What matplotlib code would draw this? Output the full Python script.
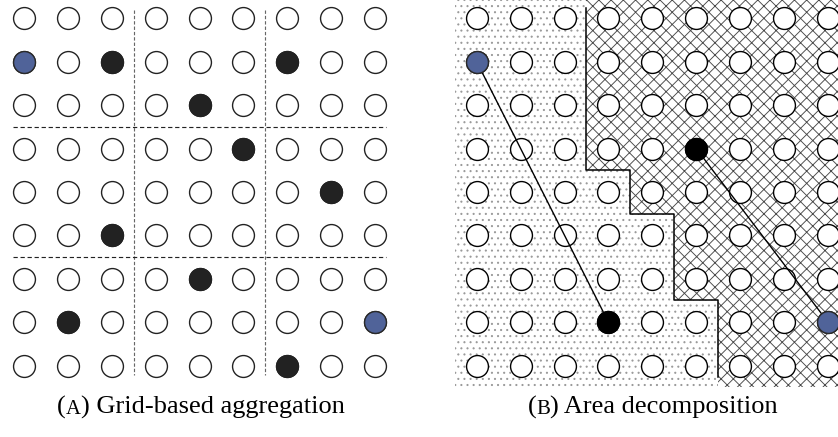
import matplotlib
matplotlib.use("Agg")
import matplotlib.pyplot as plt
from matplotlib.patches import Polygon

plt.rcParams['lines.scale_dashes'] = False
plt.rcParams['hatch.linewidth'] = 0.6

# Grid of sample points (9 x 9), (row, col) with row 0 at top
n_rows, n_cols = 9, 9

# (a) grid-based aggregation
grid_black = [(1, 2), (1, 6), (2, 4), (3, 5), (4, 7), (5, 2), (6, 4), (7, 1), (8, 6)]
grid_blue = [(1, 0), (7, 8)]
grid_cuts = [2.5, 5.5]

# (b) area decomposition
area_black = [(3, 5), (7, 3)]
area_blue = [(1, 0), (7, 8)]
area_links = [((1, 0), (7, 3)), ((3, 5), (7, 8))]
step_cols = [2.5, 3.5, 4.5, 5.5]
step_rows = [3.5, 4.5, 6.5]

captions = ["Grid-based aggregation", "Area decomposition"]
caption_tags = ["A", "B"]

BLUE = '#506399'
DPI = 110
W, H = 838, 437

fig = plt.figure(figsize=(W / DPI, H / DPI), dpi=DPI)


# place an axes from a pixel box; col c sits at px x0c + dx*c, row r at y0r + dy*r
def grid_axes(px_left, px_right, px_top, px_bot, x0c, dx, y0r, dy):
    ax = fig.add_axes([px_left / W, 1 - px_bot / H,
                       (px_right - px_left) / W, (px_bot - px_top) / H])
    ax.set_xlim((px_left - x0c) / dx, (px_right - x0c) / dx)
    ax.set_ylim((px_bot - y0r) / dy, (px_top - y0r) / dy)
    ax.axis('off')
    return ax


def get(i, l):
    return [z[i] for z in l]


all_pts = [(r, c) for r in range(n_rows) for c in range(n_cols)]
S = 205
LW = 0.9

# ---------- (a)
axA = grid_axes(0, 410, 0, 395, 24, 43.875, 18.3, 43.4)
axA.scatter(get(1, all_pts), get(0, all_pts), s=S, facecolor='white',
            edgecolor='#222222', linewidth=LW, zorder=2)
axA.scatter(get(1, grid_black), get(0, grid_black), s=S, facecolor='#222222',
            edgecolor='#222222', linewidth=LW, zorder=3)
axA.scatter(get(1, grid_blue), get(0, grid_blue), s=S, facecolor=BLUE,
            edgecolor='#2a2a2a', linewidth=LW, zorder=3)
for g in grid_cuts:
    axA.plot([g, g], [-0.19, 8.22], color='#666666', lw=0.75,
             linestyle=(0, (2.2, 1.3)), zorder=1)
    axA.plot([-0.26, 8.26], [g, g], color='#222222', lw=0.75,
             linestyle=(0, (2.8, 1.8)), zorder=1)

# ---------- (b)
axB = grid_axes(440, 838, 0, 395, 476.7, 43.9, 18.3, 43.4)
top, bot = -0.45, 8.5
stair = [(step_cols[0], top)]
for i, r in enumerate(step_rows):
    stair.append((step_cols[i], r))
    stair.append((step_cols[i + 1], r))
stair.append((step_cols[-1], bot))

left_poly = [(-0.5, top)] + stair + [(-0.5, bot)]
right_poly = stair + [(9.0, bot), (9.0, top)]
axB.add_patch(Polygon(left_poly, closed=True, facecolor='white', edgecolor='#9a9a9a',
                      linewidth=0, hatch='...', zorder=0))
axB.add_patch(Polygon(right_poly, closed=True, facecolor='white', edgecolor='#4a4a4a',
                      linewidth=0, hatch='xxx', zorder=0))
line = [(stair[0][0], -0.23)] + stair[1:-1] + [(stair[-1][0], 8.27)]
axB.plot(get(0, line), get(1, line), color='black', lw=1.0, zorder=1)

axB.scatter(get(1, all_pts), get(0, all_pts), s=S, facecolor='white',
            edgecolor='black', linewidth=LW, zorder=2)
for a, b in area_links:
    axB.plot([a[1], b[1]], [a[0], b[0]], color='black', lw=0.9, zorder=3)
axB.scatter(get(1, area_black), get(0, area_black), s=S, facecolor='black',
            edgecolor='black', linewidth=LW, zorder=4)
axB.scatter(get(1, area_blue), get(0, area_blue), s=S, facecolor=BLUE,
            edgecolor='#2a2a2a', linewidth=LW, zorder=4)

# ---------- captions with small-caps tag
renderer = fig.canvas.get_renderer()
font = 'Liberation Serif'


def caption(xc, yc, tag, text, size=17.3):
    parts = [("(", size), (tag, size * 0.78), (") " + text, size)]
    objs = []
    for s, fs in parts:
        t = fig.text(0, 1 - yc / H, s, fontsize=fs, family=font,
                     ha='left', va='baseline')
        objs.append(t)
    widths = [t.get_window_extent(renderer).width for t in objs]
    x = xc - sum(widths) / 2
    for t, w in zip(objs, widths):
        t.set_x(x / W)
        x += w


caption(201, 414, caption_tags[0], captions[0])
caption(653, 414, caption_tags[1], captions[1])

fig.savefig("out.png", dpi=DPI)
